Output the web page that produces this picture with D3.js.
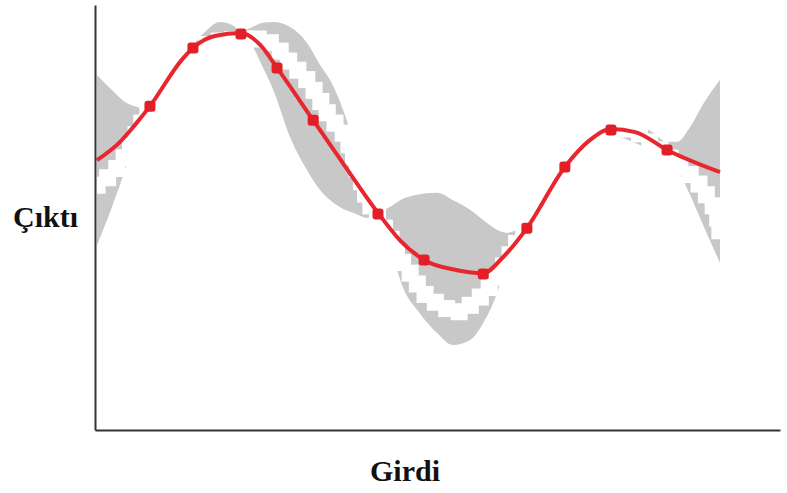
<!DOCTYPE html>
<html>
<head>
<meta charset="utf-8">
<script src="https://cdn.jsdelivr.net/npm/d3@7"></script>
<style>
  body { margin: 0; background: #fff; }
  svg { display: block; }
  .lbl { font-family: "Liberation Serif", "Times New Roman", serif; font-weight: bold; font-size: 30px; fill: #111; }
</style>
</head>
<body>
<div id="chart"></div>
<script>
// observations (red dots)
var obsX = [8.5, 15.4, 23.1, 28.9, 34.7, 45.1, 52.5, 62.0, 69.0, 75.1, 82.5, 91.5];
var obsY = [76.2, 89.9, 93.2, 85.2, 72.9, 50.8, 40.0, 36.7, 47.5, 61.9, 70.6, 65.9];

// posterior mean (red line)
var meanX = [0, 3.5, 6.1, 8.5, 13.6, 15.4, 18.9, 23.1, 26.2, 28.9, 34.7, 39.8, 45.1, 48.6, 52.5, 57.8, 62.0, 65.2, 69.0, 75.1, 79.1, 82.5, 86.4, 91.5, 100];
var meanY = [63.5, 67.5, 71.8, 76.2, 87.1, 89.9, 92.7, 93.4, 90.6, 85.2, 72.9, 62.1, 51.1, 44.7, 40.0, 37.6, 36.9, 40.7, 47.5, 61.9, 68.2, 70.8, 70.1, 65.9, 60.7];

// confidence band (grey)
var bandX = [0, 2.4, 4.5, 6.1, 7.2, 8.5, 11.7, 15.4, 17.3, 19.7, 21.7, 23.1, 24.6, 26.6, 28.3, 31.0, 33.7, 35.8, 37.4, 39.5, 41.1, 42.2, 43.3, 44.9, 47.0, 49.1, 51.8, 54.6, 57.1, 59.9, 62.0, 64.2, 65.8, 67.4, 69.0, 71.9, 75.1, 79.1, 82.5, 84.4, 86.0, 88.8, 91.5, 93.1, 95.2, 97.3, 100];
var bandHi = [83.5, 80.0, 77.2, 76.2, 75.8, 76.5, 83.3, 90.6, 93.6, 96.0, 95.3, 93.9, 94.6, 95.8, 96.0, 94.8, 91.1, 85.9, 82.4, 75.3, 68.2, 61.9, 55.3, 51.3, 52.5, 54.4, 55.5, 55.8, 54.1, 51.8, 49.4, 47.1, 46.4, 47.1, 48.2, 55.1, 62.8, 69.6, 72.0, 72.2, 71.8, 70.4, 67.8, 67.8, 71.3, 76.7, 82.4];
var bandLo = [43.5, 52.5, 61.2, 68.9, 72.9, 75.8, 81.9, 89.2, 91.3, 92.2, 92.7, 92.7, 91.1, 85.4, 80.0, 68.9, 61.2, 56.5, 54.1, 52.0, 51.1, 50.4, 49.9, 50.4, 43.1, 33.6, 27.5, 22.8, 20.0, 21.2, 25.2, 32.2, 40.0, 45.4, 46.8, 53.4, 60.9, 67.3, 69.6, 68.7, 67.8, 65.9, 64.5, 61.6, 55.3, 48.2, 39.3];

// true function (white squares)
var trueX = [0, 3.2, 5.1, 6.4, 8.5, 11.7, 15.4, 18.9, 21.5, 23.8, 26.2, 28.9, 31.0, 33.7, 35.8, 37.4, 39.5, 40.6, 42.2, 43.3, 45.1, 47.0, 48.6, 50.7, 52.3, 55.1, 57.9, 60.4, 62.6, 64.2, 66.3, 67.9, 69.0, 75.1, 79.1, 82.5, 86.0, 88.3, 90.4, 93.6, 96.1, 98.1, 99.7, 100];
var trueY = [57.6, 61.6, 65.9, 69.9, 75.8, 83.3, 88.9, 91.3, 91.8, 92.0, 92.0, 89.9, 86.4, 82.4, 77.6, 73.6, 69.9, 66.6, 59.5, 54.8, 49.9, 45.4, 40.5, 36.0, 32.5, 29.4, 27.8, 29.9, 32.9, 36.0, 41.2, 45.2, 47.5, 61.9, 68.2, 71.1, 70.6, 68.2, 65.9, 61.9, 58.8, 54.6, 49.4, 46.6];

var xLabel = "Girdi";
var yLabel = "Çıktı";

var width = 787, height = 493;
var svg = d3.select("#chart").append("svg")
            .attr("width", width)
            .attr("height", height);

var x = d3.scaleLinear().domain([0, 100]).range([97, 720]);
var y = d3.scaleLinear().domain([0, 100]).range([430, 5]);

svg.append("clipPath").attr("id", "plotClip")
   .append("rect")
   .attr("x", x(0)).attr("y", 0)
   .attr("width", x(100) - x(0)).attr("height", y(0));

var band = bandX.map(function(d, i){ return {x: d, hi: bandHi[i], lo: bandLo[i]}; });
var area = d3.area()
             .x(function(d){ return x(d.x); })
             .y0(function(d){ return y(d.lo); })
             .y1(function(d){ return y(d.hi); })
             .curve(d3.curveMonotoneX);
svg.append("path")
   .datum(band)
   .attr("d", area)
   .attr("fill", "#c8c8c8");

// white squares along the true function
var truth = trueX.map(function(d, i){ return [x(d), y(trueY[i])]; });
var trueLine = d3.line().curve(d3.curveMonotoneX);
var guide = svg.append("path")
               .attr("d", trueLine(truth))
               .attr("fill", "none")
               .attr("stroke", "none");
var len = guide.node().getTotalLength();
var step = 13, sq = 17;
var pts = d3.range(0, len + 1, step).map(function(l){ return guide.node().getPointAtLength(l); });
svg.append("g").attr("clip-path", "url(#plotClip)")
   .selectAll("rect").data(pts).enter().append("rect")
   .attr("x", function(p){ return p.x - sq/2; })
   .attr("y", function(p){ return p.y - sq/2; })
   .attr("width", sq)
   .attr("height", sq)
   .attr("fill", "#fff");

var mean = meanX.map(function(d, i){ return {x: d, y: meanY[i]}; });
var meanLine = d3.line()
                 .x(function(d){ return x(d.x); })
                 .y(function(d){ return y(d.y); })
                 .curve(d3.curveMonotoneX);
svg.append("path")
   .datum(mean)
   .attr("d", meanLine)
   .attr("fill", "none")
   .attr("stroke", "#e8262d")
   .attr("stroke-width", 4);

var obs = obsX.map(function(d, i){ return {x: d, y: obsY[i]}; });
svg.selectAll(".obs").data(obs).enter().append("rect")
   .attr("class", "obs")
   .attr("x", function(d){ return x(d.x) - 5.5; })
   .attr("y", function(d){ return y(d.y) - 5.5; })
   .attr("width", 11)
   .attr("height", 11)
   .attr("rx", 3)
   .attr("fill", "#e41e26");

// axes, no ticks
var xAxisScale = x.copy().domain([x.invert(95), x.invert(780)]).range([95, 780]);
var gx = svg.append("g")
            .attr("transform", "translate(0," + y(0) + ")")
            .call(d3.axisBottom(xAxisScale).ticks(0).tickSizeOuter(0));
var gy = svg.append("g")
            .attr("transform", "translate(95,0)")
            .call(d3.axisLeft(y).ticks(0).tickSizeOuter(0));
svg.selectAll(".domain").attr("stroke", "#333").attr("stroke-width", 2);

svg.append("text").attr("class", "lbl")
   .attr("x", 405).attr("y", 481)
   .attr("text-anchor", "middle")
   .text(xLabel);
svg.append("text").attr("class", "lbl")
   .attr("x", 13).attr("y", 227)
   .text(yLabel);
</script>
</body>
</html>
